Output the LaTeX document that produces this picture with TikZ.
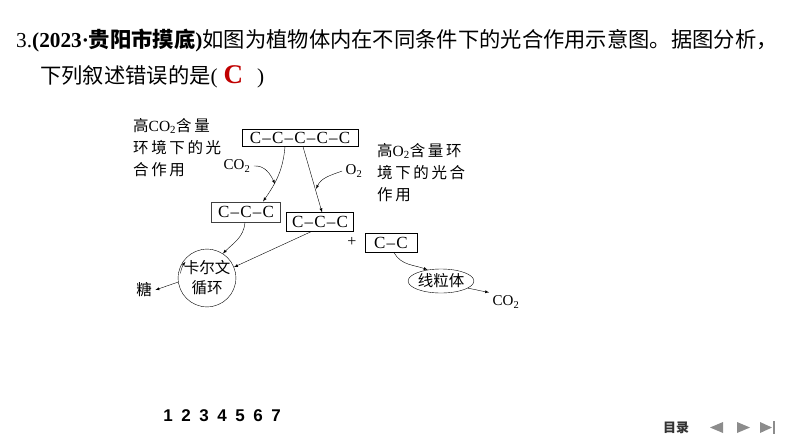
\documentclass[tikz,border=0pt]{standalone}
\usepackage{fontspec}
\usepackage{xcolor}
\setmainfont{Liberation Serif}
\newfontfamily\cjk{Noto Sans CJK SC}
\newfontfamily\cjks{Noto Sans CJK SC}[LetterSpace=17]
\newfontfamily\numfont{Liberation Sans}
\usepackage{tikz}
\usetikzlibrary{arrows,positioning,shapes.geometric}
\definecolor{ansred}{RGB}{192,0,0}
\definecolor{navgray}{RGB}{140,140,140}
\newcommand\cc{\kern1.2pt–\kern1.2pt}
\newcommand\zh[1]{{\cjks #1}}
\tikzset{
	cbox/.style={draw,thin,inner sep=0pt,minimum height=17pt,font=\fontsize{17}{17}\selectfont},
	lab/.style={align=left,inner sep=0pt,font=\fontsize{15.5}{22}\selectfont},
	arr/.style={-latex,thin},
}
\begin{document}
\begin{tikzpicture}[x=1pt,y=1pt]
	  	\useasboundingbox (0,0) rectangle (794,-447);
	  	% question
	  	\node[anchor=west,inner sep=0pt,font=\fontsize{21.3}{21}\selectfont] (q1) at (16,-41) {3.\textbf{(2023·{\cjk 贵阳市摸底})}{\cjk 如图为植物体内在不同条件下的光合作用示意图。据图分析，}};
	  	\node[anchor=west,inner sep=0pt,font=\fontsize{21.3}{21}\selectfont] (q2) at (40,-77) {{\cjk 下列叙述错误的是}(\hspace{6pt}{\color{ansred}\bfseries\fontsize{27}{27}\selectfont C}\hspace{14pt})};
	  	% boxes
	  	\node[cbox,minimum width=116pt] (c5) at (300,-138) {C\cc C\cc C\cc C\cc C};
	  	\node[cbox,minimum width=69pt,minimum height=20pt,draw=black!75,line width=1pt] (c3a) at (246,-212) {C\cc C\cc C};
	  	\node[cbox,minimum width=67pt,minimum height=19pt] (c3b) at (320,-222) {C\cc C\cc C};
	  	\node[cbox,minimum width=52pt,minimum height=19pt] (c2) at (391,-243) {C\cc C};
	  	\node[font=\fontsize{16}{16}\selectfont] (plus) at (352,-242) {+};
	  	% labels
	  	\node[lab,anchor=north west] (hico2) at (133,-118) {\zh{高}CO\textsubscript{2}\zh{含量}\\\zh{环境下的光}\\\zh{合作用}};
	  	\node[lab,anchor=north west] (hio2) at (377,-143) {\zh{高}O\textsubscript{2}\zh{含量环}\\\zh{境下的光合}\\\zh{作用}};
	  	\node[font=\fontsize{15}{15}\selectfont] (co2a) at (237,-166) {CO\textsubscript{2}};
	  	\node[font=\fontsize{15}{15}\selectfont] (o2) at (354,-171) {O\textsubscript{2}};
	  	\node[font=\fontsize{15}{15}\selectfont] (co2b) at (506,-302) {CO\textsubscript{2}};
	  	\node[draw,thin,circle,minimum size=54pt,inner sep=0pt,align=center,font=\cjk\fontsize{15.5}{20}\selectfont] (calvin) at (207,-278) {卡尔文\\循环};
	  	\node[draw,thin,ellipse,minimum width=62pt,minimum height=24pt,inner sep=0pt,font=\cjk\fontsize{15.5}{15}\selectfont] (mito) at (441,-281) {线粒体};
	  	\node[font=\cjk\fontsize{15.5}{15}\selectfont] (tang) at (144,-290) {糖};
	  	\coordinate (m1) at (275,-184);
	  	\coordinate (m2) at (316,-189);
	  	% arrows
	  	\draw[arr] ([xshift=-15pt]c5.south) to[out=-95,in=55] ([xshift=17pt]c3a.north);
	  	\draw[arr] (co2a.east) to[out=5,in=115] (m1);
	  	\draw[arr] ([xshift=3pt]c5.south) -- ([xshift=2pt]c3b.north);
	  	\draw[arr] (o2.west) to[out=200,in=65] (m2);
	  	\draw[arr] ([xshift=-1pt]c3a.south) to[out=-95,in=45] (calvin.57);
	  	\draw[arr] ([xshift=-9pt]c3b.south) -- (calvin.22);
	  	\draw[arr] (calvin.188) -- (tang.east);
	  	\draw[arr] ([shift={(170:27pt)}]calvin.center) arc[start angle=170,end angle=143,radius=27pt];
	  	\draw[arr] ([xshift=3pt]c2.south) to[out=-60,in=160] (mito.140);
	  	\draw[arr] (mito.-15) to[out=-10,in=170] (co2b.north west);
	  	% footer
	  	\foreach \n in {1,...,7}
	  		\node[font=\numfont\bfseries\fontsize{17}{17}\selectfont] (num\n) at (168+18*\n-18,-416) {\n};
	  	\node[font=\cjk\bfseries\fontsize{13}{13}\selectfont,text=black!80] (mulu) at (676,-428) {目录};
	  	\fill[navgray] (723,-422) -- (710,-427.5) -- (723,-433) -- cycle;
	  	\fill[navgray] (737,-422) -- (750,-427.5) -- (737,-433) -- cycle;
	  	\fill[navgray] (760,-422) -- (772,-427.5) -- (760,-433) -- cycle;
	  	\fill[navgray] (773,-421) rectangle (775,-434);
	  \end{tikzpicture}
\end{document}
